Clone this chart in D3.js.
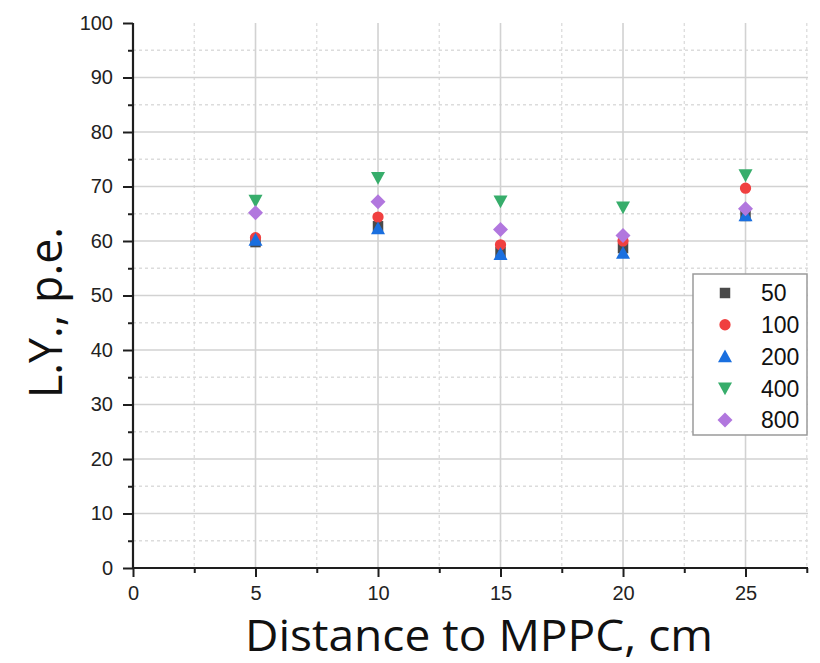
<!DOCTYPE html>
<html>
<head>
<meta charset="utf-8">
<script src="https://cdn.jsdelivr.net/npm/d3@7"></script>
<style>
  html, body { margin: 0; padding: 0; background: #fff; }
  svg { display: block; }
</style>
</head>
<body>
<svg id="chart" width="820" height="663"></svg>
<script>
// ---- data ----
const distances = [5, 10, 15, 20, 25];
const seriesNames = ["50", "100", "200", "400", "800"];
const vals50  = [59.8, 62.7, 58.0, 58.7, 64.6];
const vals100 = [60.6, 64.4, 59.3, 60.0, 69.7];
const vals200 = [60.2, 62.3, 57.6, 57.8, 64.7];
const vals400 = [67.4, 71.6, 67.3, 66.2, 72.1];
const vals800 = [65.2, 67.2, 62.1, 61.0, 65.9];
const xTicks = [0, 5, 10, 15, 20, 25];
const yTicks = [0, 10, 20, 30, 40, 50, 60, 70, 80, 90, 100];
const xTitle = "Distance to MPPC, cm";
const yTitle = "L.Y., p.e.";

const seriesValues = [vals50, vals100, vals200, vals400, vals800];
const colors = ["#4a4a4a", "#f04040", "#1a6fdf", "#37ad6b", "#b177de"];

// custom symbols
const symSquare = { draw(c, s) { const h = Math.sqrt(s) / 2; c.rect(-h, -h, 2 * h, 2 * h); } };
const symCircle = { draw(c, s) { const r = Math.sqrt(s / Math.PI); c.moveTo(r, 0); c.arc(0, 0, r, 0, 2 * Math.PI); } };
const symTriUp = { draw(c, s) { const w = Math.sqrt(s); const h = w * 0.92; c.moveTo(0, -h * 0.55); c.lineTo(w / 2, h * 0.45); c.lineTo(-w / 2, h * 0.45); c.closePath(); } };
const symTriDown = { draw(c, s) { const w = Math.sqrt(s); const h = w * 0.92; c.moveTo(0, h * 0.55); c.lineTo(w / 2, -h * 0.45); c.lineTo(-w / 2, -h * 0.45); c.closePath(); } };
const symDiamond = { draw(c, s) { const r = Math.sqrt(s) / 2; c.moveTo(0, -r); c.lineTo(r, 0); c.lineTo(0, r); c.lineTo(-r, 0); c.closePath(); } };
const symbols = [
  d3.symbol(symSquare, 110),
  d3.symbol(symCircle, 100),
  d3.symbol(symTriUp, 196),
  d3.symbol(symTriDown, 196),
  d3.symbol(symDiamond, 225)
];

const svg = d3.select("#chart");
const pLeft = 133, pRight = 808, pTop = 23, pBottom = 568;

const x = d3.scaleLinear().domain([0, 27.55]).range([pLeft, pRight]);
const y = d3.scaleLinear().domain([0, 100]).range([pBottom, pTop]);

const xMinor = d3.range(2.5, 27.6, 5);
const yMinor = d3.range(5, 100, 10);

// grid
const grid = svg.append("g");
grid.selectAll(".vminor").data(xMinor).join("line")
  .attr("x1", d => x(d)).attr("x2", d => x(d)).attr("y1", pTop).attr("y2", pBottom)
  .attr("stroke", "#dcdcdc").attr("stroke-width", 1.3).attr("stroke-dasharray", "3,3");
grid.selectAll(".hminor").data(yMinor).join("line")
  .attr("x1", pLeft).attr("x2", pRight).attr("y1", d => y(d)).attr("y2", d => y(d))
  .attr("stroke", "#dcdcdc").attr("stroke-width", 1.3).attr("stroke-dasharray", "3,3");
grid.selectAll(".vmajor").data(xTicks.filter(d => d > 0)).join("line")
  .attr("x1", d => x(d)).attr("x2", d => x(d)).attr("y1", pTop).attr("y2", pBottom)
  .attr("stroke", "#d2d2d2").attr("stroke-width", 1.6);
grid.selectAll(".hmajor").data(yTicks.filter(d => d > 0 && d < 100)).join("line")
  .attr("x1", pLeft).attr("x2", pRight).attr("y1", d => y(d)).attr("y2", d => y(d))
  .attr("stroke", "#d2d2d2").attr("stroke-width", 1.6);

// axes
const axisColor = "#1e1e1e";
const fontTicks = "'Liberation Sans', Arial, sans-serif";

const xAxis = svg.append("g").attr("transform", `translate(0,${pBottom})`)
  .call(d3.axisBottom(x).tickValues(xTicks).tickSize(9).tickPadding(9).tickFormat(d3.format("d")));
const xAxisMinor = svg.append("g").attr("transform", `translate(0,${pBottom})`)
  .call(d3.axisBottom(x).tickValues(xMinor).tickSize(5).tickFormat(""));
const yAxis = svg.append("g").attr("transform", `translate(${pLeft},0)`)
  .call(d3.axisLeft(y).tickValues(yTicks).tickSize(10).tickPadding(10).tickFormat(d3.format("d")));
const yAxisMinor = svg.append("g").attr("transform", `translate(${pLeft},0)`)
  .call(d3.axisLeft(y).tickValues(yMinor).tickSize(5).tickFormat(""));

[xAxis, xAxisMinor, yAxis, yAxisMinor].forEach(g => {
  g.select(".domain").attr("stroke", axisColor).attr("stroke-width", 2.2);
  g.selectAll(".tick line").attr("stroke", axisColor).attr("stroke-width", 2);
  g.selectAll(".tick text").attr("fill", "#222").style("font-family", fontTicks).style("font-size", "20px");
});
xAxis.select(".domain").attr("d", `M${pLeft},0H${pRight}`);
xAxisMinor.select(".domain").remove();
yAxis.select(".domain").attr("d", `M0,${pBottom}V${pTop}`);
yAxisMinor.select(".domain").remove();

// markers
const marks = svg.append("g");
seriesValues.forEach((vals, i) => {
  marks.append("g").selectAll("path").data(distances.map((d, j) => [d, vals[j]])).join("path")
    .attr("transform", d => `translate(${x(d[0])},${y(d[1])})`)
    .attr("d", symbols[i])
    .attr("fill", colors[i]);
});

// legend
const lg = svg.append("g");
lg.append("rect").attr("x", 693).attr("y", 274).attr("width", 114).attr("height", 161)
  .attr("fill", "#fff").attr("stroke", "#9a9a9a").attr("stroke-width", 1.5);
const legY = d3.scalePoint().domain(seriesNames).range([293, 420]);
seriesNames.forEach((name, i) => {
  lg.append("path").attr("transform", `translate(725,${legY(name)})`)
    .attr("d", symbols[i]).attr("fill", colors[i]);
  lg.append("text").attr("x", 761).attr("y", legY(name)).attr("dy", "0.36em")
    .style("font-family", fontTicks).style("font-size", "23px").attr("fill", "#111")
    .text(name);
});

// titles
const titleFont = "'Open Sans', 'Noto Sans', sans-serif";
svg.append("text").attr("x", 245).attr("y", 651)
  .style("font-family", titleFont).style("font-size", "44px").attr("fill", "#111")
  .attr("textLength", 468).attr("lengthAdjust", "spacingAndGlyphs")
  .text(xTitle);
svg.append("text").attr("transform", "translate(62,398) rotate(-90)")
  .style("font-family", titleFont).style("font-size", "46px").attr("fill", "#111")
  .attr("textLength", 171).attr("lengthAdjust", "spacingAndGlyphs")
  .text(yTitle);
</script>
</body>
</html>
